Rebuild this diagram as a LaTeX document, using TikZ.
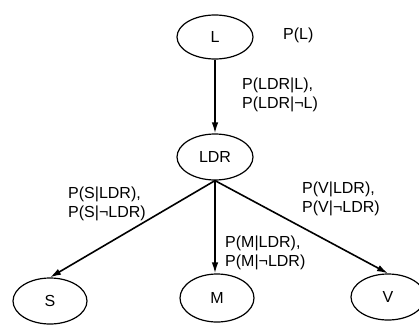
\documentclass[tikz,border=0pt]{standalone}
\usepackage{fontspec}
\setmainfont{Liberation Sans}
\usetikzlibrary{arrows.meta,shapes.geometric}
\begin{document}
\begin{tikzpicture}[x=1pt,y=1pt,
  var/.style={ellipse,draw,line width=1.2pt,inner sep=0pt,
    minimum width=76pt,minimum height=46pt,font=\fontsize{16}{19}\selectfont},
  prob/.style={anchor=west,align=left,inner sep=0pt,
    font=\fontsize{16}{19}\selectfont},
  dep/.style={line width=1.6pt,-{Latex[length=11pt,width=6.5pt]}}]
  \useasboundingbox (0,0) rectangle (419,325);
  % variables of the network
  \node[var,minimum height=44pt] (L) at (215,288) {L};
  \node[var] (LDR) at (215,168) {LDR};
  \node[var,minimum width=74pt] (S) at (50,24) {S};
  \node[var,minimum width=74pt,minimum height=48pt] (M) at (217,27) {M};
  \node[var,minimum width=74pt] (V) at (388,28) {V};
  % dependencies
  \draw[dep] (L.south) -- (LDR.north);
  \draw[dep] (LDR.south) -- (S.north);
  \draw[dep] (LDR.south) -- (M.north -| LDR.south);
  \draw[dep] (LDR.south) -- (V.north);
  % probability tables
  \node[prob] (pL) at (283,290) {P(L)};
  \node[prob] (pLDR) at (242,230) {P(LDR|L),\\P(LDR|¬L)};
  \node[prob] (pS) at (68,121) {P(S|LDR),\\P(S|¬LDR)};
  \node[prob] (pV) at (302,126) {P(V|LDR),\\P(V|¬LDR)};
  \node[prob] (pM) at (225,72) {P(M|LDR),\\P(M|¬LDR)};
\end{tikzpicture}
\end{document}
